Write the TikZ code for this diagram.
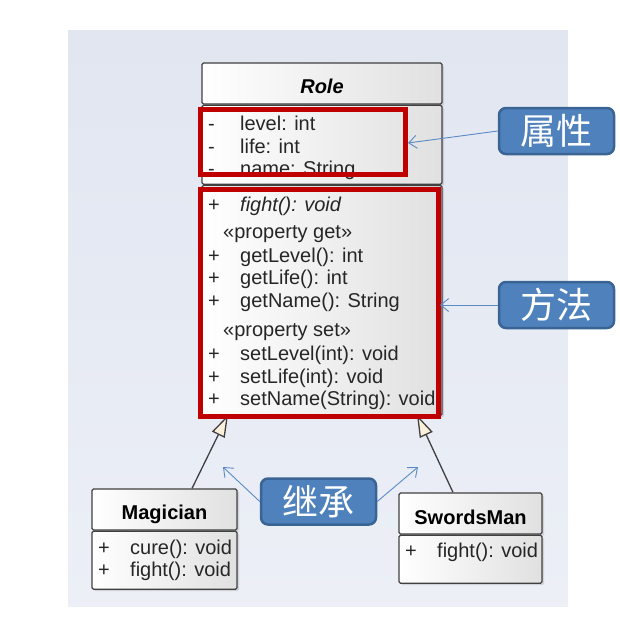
\documentclass[tikz,border=0pt]{standalone}
\usepackage{fontspec}
\setmainfont{Liberation Sans}
\newfontfamily\cjk{Noto Sans CJK SC}
\usetikzlibrary{shapes,arrows.meta,positioning,calc,fit,shadows}
\definecolor{slidetop}{HTML}{E1E6F1}
\definecolor{slidebot}{HTML}{ECEFF6}
\definecolor{noteblue}{HTML}{4F81BD}
\definecolor{noteedge}{HTML}{3A6494}
\definecolor{linkblue}{HTML}{5A8AC6}
\definecolor{markred}{HTML}{C00000}
\definecolor{cream}{HTML}{FBF0DC}
\tikzstyle{classbox} = [draw=black!75, line width=1.2pt, left color=white, right color=black!12, inner sep=0pt, rounded corners=1.5pt, drop shadow={opacity=0.25, shadow xshift=2pt, shadow yshift=-2pt}]
\tikzstyle{member} = [anchor=base west, inner sep=0pt, text=black!85, font=\fontsize{20}{23}\selectfont]
\tikzstyle{classname} = [anchor=base, inner sep=0pt, text=black, font=\bfseries\fontsize{20}{23}\selectfont]
\tikzstyle{redbox} = [draw=markred, line width=4.5pt, inner sep=0pt]
\tikzstyle{calloutbox} = [draw=noteedge, line width=2.5pt, fill=noteblue, rounded corners=7pt, text=white, minimum width=115pt, minimum height=46pt, font=\cjk\fontsize{36}{36}\selectfont]
\tikzstyle{pointer} = [draw=linkblue, line width=0.9pt, -{Straight Barb[length=8pt,width=13pt]}]
\tikzstyle{inherit} = [draw=black!75, line width=1.3pt, -{Triangle[fill=cream,length=22pt,width=14pt]}]
\newcommand{\vis}[1]{\makebox[32pt][l]{#1}}

\begin{document}
\begin{tikzpicture}[x=1pt,y=-1pt]
  \useasboundingbox (0,0) rectangle (620,625);
  \fill[top color=slidetop, bottom color=slidebot] (68,30) rectangle (568,606);

  % class Role
  \node[classbox, minimum width=240pt, minimum height=41pt] (roleHead) at (322,83.5) {};
  \node[classbox, minimum width=240pt, minimum height=79pt, below=0pt of roleHead] (roleAttr) {};
  \node[classbox, minimum width=240pt, minimum height=230pt, below=0pt of roleAttr] (roleOps) {};
  \node[classname] (roleName) at (322,93) {\itshape Role};
  \node[member] (attrLevel) at (208,130) {\vis{-}level: int};
  \node[member] (attrLife) at (208,153) {\vis{-}life: int};
  \node[member] (attrName) at (208,175.5) {\vis{-}name: String};
  \node[member] (opFight) at (208,211) {\vis{+}\itshape fight(): void};
  \node[member] (getHead) at (223,238) {«property get»};
  \node[member] (opGetLevel) at (208,262) {\vis{+}getLevel(): int};
  \node[member] (opGetLife) at (208,284.5) {\vis{+}getLife(): int};
  \node[member] (opGetName) at (208,307) {\vis{+}getName(): String};
  \node[member] (setHead) at (223,336.5) {«property set»};
  \node[member] (opSetLevel) at (208,360) {\vis{+}setLevel(int): void};
  \node[member] (opSetLife) at (208,383) {\vis{+}setLife(int): void};
  \node[member] (opSetName) at (208,405) {\vis{+}setName(String): void};

  % subclasses
  \node[classbox, minimum width=145pt, minimum height=41pt] (magHead) at (164.5,509.5) {};
  \node[classbox, minimum width=145pt, minimum height=58pt, below=0pt of magHead] (magOps) {};
  \node[classname] (magName) at (164.5,519) {Magician};
  \node[member] (magCure) at (98,554) {\vis{+}cure(): void};
  \node[member] (magFight) at (98,576.5) {\vis{+}fight(): void};

  \node[classbox, minimum width=143pt, minimum height=41pt] (swordHead) at (470.5,513.5) {};
  \node[classbox, minimum width=143pt, minimum height=48pt, below=0pt of swordHead] (swordOps) {};
  \node[classname] (swordName) at (470.5,524) {SwordsMan};
  \node[member] (swordFight) at (405,557) {\vis{+}fight(): void};

  % generalisation
  \coordinate (roleBaseL) at (228,415);
  \coordinate (roleBaseR) at (417,415);
  \draw[inherit] ($(magHead.north)+(27.5,0)$) -- (roleBaseL);
  \draw[inherit] ($(swordHead.north)+(-17.5,0)$) -- (roleBaseR);

  % highlight frames
  \node[redbox, minimum width=205pt, minimum height=65pt] (attrFrame) at (303,142) {};
  \node[redbox, minimum width=238pt, minimum height=227pt] (methFrame) at (319.5,303) {};

  % callouts
  \node[calloutbox] (attrNote) at (556.5,131) {属性};
  \node[calloutbox] (methNote) at (556.5,305) {方法};
  \node[calloutbox] (inhNote) at (318.5,501.5) {继承};
  \coordinate (attrTip) at (408,143);
  \coordinate (methTip) at (440,305);
  \coordinate (inhTipL) at (223,467);
  \coordinate (inhTipR) at (418,467);
  \draw[pointer] (attrNote.west) -- (attrTip);
  \draw[pointer] (methNote.west) -- (methTip);
  \draw[pointer] (inhNote.west) -- (inhTipL);
  \draw[pointer] (inhNote.east) -- (inhTipR);
\end{tikzpicture}
\end{document}
